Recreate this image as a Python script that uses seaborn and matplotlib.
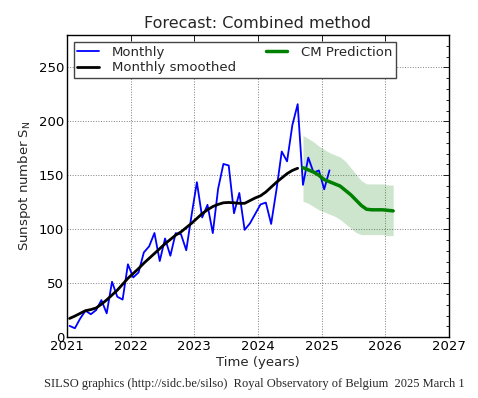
import numpy as np
import pandas as pd
import matplotlib
matplotlib.use('Agg')
import matplotlib.pyplot as plt
from matplotlib.ticker import MultipleLocator, FormatStrFormatter
import seaborn as sns


# ── Data ────────────────────────────────────────────────────
# Monthly mean sunspot number, Jan 2021 .. Feb 2025
monthly_sn = [
    10.4, 8.2, 17.2, 24.5, 21.2, 25.0, 34.3, 22.0, 51.3, 37.4, 34.8, 67.5,
    55.3, 59.9, 78.5, 84.1, 96.5, 70.5, 91.4, 75.4, 96.3, 95.4, 80.5, 113.1,
    143.6, 110.9, 122.6, 96.4, 137.4, 160.5, 159.1, 114.8, 133.6, 99.4, 105.4, 114.2,
    123.0, 124.7, 104.9, 136.5, 172.0, 162.9, 196.5, 215.9, 141.1, 166.4, 152.5, 154.5,
    137.0, 154.6,
]

# 13-month smoothed, Jan 2021 .. Aug 2024
smoothed_sn = [
    17.3, 19.5, 22.0, 24.5, 25.5, 27.0, 30.5, 34.5, 39.0, 43.5, 49.0, 54.5,
    59.0, 63.5, 68.5, 73.0, 77.5, 82.0, 86.5, 90.5, 94.5, 97.5, 101.5, 105.5,
    110.0, 114.5, 118.0, 121.0, 123.0, 124.5, 124.8, 124.5, 124.0, 124.0, 126.5, 129.0,
    131.0, 134.5, 139.0, 143.5, 147.5, 151.5, 154.5, 156.5,
]

# Combined-method prediction, Sep 2024 .. Feb 2026
pred_sn = [157, 155, 153, 150, 146, 144, 142, 140, 136, 132, 127, 122,
           118.5, 118, 118, 118, 117.5, 117]
pred_upper = [187, 184, 181, 177, 174, 171, 169, 167, 163, 157, 151, 145,
              142, 142, 142, 142, 141, 141]
pred_lower = [126, 124, 121, 118, 116, 114, 112, 109, 105, 101, 97, 95,
              95, 95, 95, 95, 94, 94]


def decimal_months(start_year, start_month, n):
    # mid-month decimal years
    idx = np.arange(n) + (start_month - 1)
    return start_year + (idx + 0.5) / 12.0


def main():
    sns.set_style('white')
    plt.rcParams['font.family'] = ['DejaVu Sans']

    df_m = pd.DataFrame({'t': decimal_months(2021, 1, len(monthly_sn)), 'sn': monthly_sn})
    df_s = pd.DataFrame({'t': decimal_months(2021, 1, len(smoothed_sn)), 'sn': smoothed_sn})
    df_p = pd.DataFrame({'t': decimal_months(2024, 9, len(pred_sn)), 'sn': pred_sn,
                         'lo': pred_lower, 'hi': pred_upper})

    fig = plt.figure(figsize=(4.78, 3.98), dpi=100)
    ax = fig.add_axes([0.140, 0.153, 0.799, 0.759])

    # uncertainty band, then the three curves
    ax.fill_between(df_p['t'], df_p['lo'], df_p['hi'], color='g', alpha=0.2, linewidth=0)
    sns.lineplot(data=df_m, x='t', y='sn', ax=ax, color='b', linewidth=1.3, label='Monthly')
    sns.lineplot(data=df_s, x='t', y='sn', ax=ax, color='k', linewidth=2, label='Monthly smoothed')
    sns.lineplot(data=df_p, x='t', y='sn', ax=ax, color='g', linewidth=2.5, label='CM Prediction')

    ax.set_xlim(2021, 2027)
    ax.set_ylim(0, 280)
    ax.xaxis.set_major_locator(MultipleLocator(1))
    ax.xaxis.set_major_formatter(FormatStrFormatter('%d'))
    ax.yaxis.set_major_locator(MultipleLocator(50))
    ax.yaxis.set_minor_locator(MultipleLocator(10))

    ax.tick_params(which='both', direction='in', top=True, right=True,
                   colors='k', labelsize=9.5, pad=2)
    ax.tick_params(which='major', length=4, width=0.6)
    ax.tick_params(which='minor', length=2, width=0.6)
    for sp in ax.spines.values():
        sp.set_color('k')
        sp.set_linewidth(1.0)

    ax.grid(True, which='major', linestyle=':', color='k', linewidth=0.7, alpha=0.5)

    ax.set_title('Forecast: Combined method', fontsize=11.5, pad=5)
    ax.set_xlabel('Time (years)', fontsize=9.5, labelpad=2)
    ax.set_ylabel(r'Sunspot number $\mathregular{S_N}$', fontsize=9.5, labelpad=4)

    leg = ax.legend(loc='upper left', ncol=2, fontsize=9.5, frameon=True,
                    fancybox=False, borderaxespad=0.5, handlelength=1.6,
                    handletextpad=1.0, columnspacing=2.3, labelspacing=0.2,
                    borderpad=0.3)
    leg.get_frame().set_edgecolor('#444444')
    leg.get_frame().set_linewidth(1.0)
    leg.get_frame().set_alpha(1.0)

    fig.text(0.532, 0.02,
             'SILSO graphics (http://sidc.be/silso)  Royal Observatory of Belgium  2025 March 1',
             ha='center', va='bottom', fontsize=9, family=['Liberation Serif', 'DejaVu Serif'])

    fig.savefig('out.png', dpi=100)
    plt.close(fig)


if __name__ == '__main__':
    main()
